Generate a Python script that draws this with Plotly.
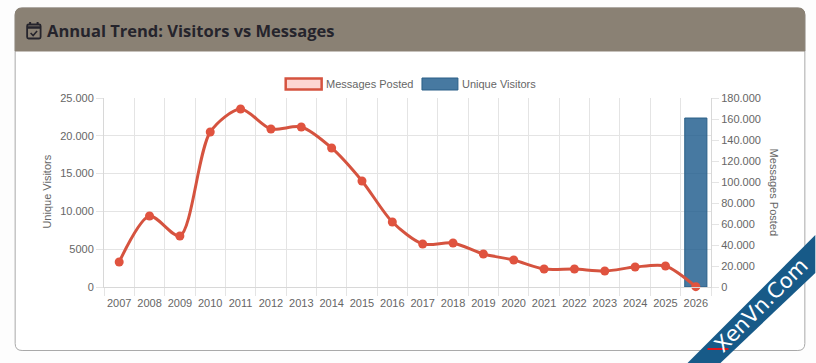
import plotly.graph_objects as go

years = [str(y) for y in range(2007, 2027)]
messages = [23800, 67600, 48600, 147600, 169500, 150500, 152400, 132400, 101000, 61900,
            41000, 41900, 31400, 25700, 17100, 17100, 15200, 19000, 20000, 300]
visitors = [None] * 19 + [22350]
left_ticks = [0, 5000, 10000, 15000, 20000, 25000]
left_labels = ["0", "5000", "10.000", "15.000", "20.000", "25.000"]
right_ticks = list(range(0, 180001, 20000))
right_labels = ["0", "20.000", "40.000", "60.000", "80.000", "100.000", "120.000", "140.000", "160.000", "180.000"]

W, H = 816, 363
L, R, T, B = 103.5, 711.5, 98, 287
FONT = "Liberation Sans"
GRAY = "#666666"
GRID = "#e4e4e4"

fig = go.Figure()
fig.add_trace(go.Bar(x=years, y=visitors, name="Unique Visitors", yaxis="y",
                     marker=dict(color="rgba(31,92,140,0.82)", line=dict(color="#2a5f87", width=1)),
                     showlegend=False))
fig.add_trace(go.Scatter(x=years, y=messages, name="Messages Posted", yaxis="y2", mode="lines+markers",
                         line=dict(color="#d5533f", width=3, shape="spline", smoothing=0.8),
                         marker=dict(color="#e0533f", size=9), cliponaxis=False, showlegend=False))


# paper coordinates are relative to the plot area
def px(x):
    return (x - L) / (R - L)


def py(y):
    return (B - y) / (B - T)


def f(a, b):
    return f"{px(a):.5f},{py(b):.5f}"


def rect(x0, y0, x1, y1, fill, line=None, lw=0):
    return dict(type="rect", xref="paper", yref="paper", x0=px(x0), x1=px(x1), y0=py(y0), y1=py(y1),
                fillcolor=fill, line=dict(color=line or fill, width=lw), layer="above")


def path(points, fill=None, line=None, lw=1, layer="below"):
    d = "M" + " L".join(f(x, y) for x, y in points)
    if fill:
        d += " Z"
    return dict(type="path", xref="paper", yref="paper", path=d, fillcolor=fill or "rgba(0,0,0,0)",
                line=dict(color=line or "rgba(0,0,0,0)", width=lw), layer=layer)


def card(x0, y0, x1, y1, r):
    return (f"M{f(x0 + r, y0)} L{f(x1 - r, y0)} Q{f(x1, y0)} {f(x1, y0 + r)} L{f(x1, y1 - r)} "
            f"Q{f(x1, y1)} {f(x1 - r, y1)} L{f(x0 + r, y1)} Q{f(x0, y1)} {f(x0, y1 - r)} "
            f"L{f(x0, y0 + r)} Q{f(x0, y0)} {f(x0 + r, y0)} Z")


def header(x0, y0, x1, y1, r):
    return (f"M{f(x0 + r, y0)} L{f(x1 - r, y0)} Q{f(x1, y0)} {f(x1, y0 + r)} L{f(x1, y1)} L{f(x0, y1)} "
            f"L{f(x0, y0 + r)} Q{f(x0, y0)} {f(x0 + r, y0)} Z")


INK = "#25242c"
shapes = [
    dict(type="path", xref="paper", yref="paper", path=card(14.5, 8, 805.5, 350.5, 7),
         fillcolor="#ffffff", line=dict(color="#a9a9a9", width=1), layer="below"),
    dict(type="path", xref="paper", yref="paper", path=header(14.5, 8, 805.5, 51, 7),
         fillcolor="#8a8174", line=dict(color="#8a8174", width=1), layer="below"),
    # calendar icon
    dict(type="path", xref="paper", yref="paper", path=card(26.5, 24.5, 40, 38.5, 1.5),
         fillcolor="rgba(0,0,0,0)", line=dict(color=INK, width=1.8), layer="above"),
    path([(26.5, 27.5), (40, 27.5)], line=INK, lw=2.5, layer="above"),
    path([(29.5, 22), (29.5, 25)], line=INK, lw=2, layer="above"),
    path([(37, 22), (37, 25)], line=INK, lw=2, layer="above"),
    path([(30, 33), (32.5, 35.5), (36.5, 31)], line=INK, lw=1.6, layer="above"),
    # legend swatches
    rect(285.5, 78.5, 321.5, 89.5, "#fdd6d2", "#d5533f", 2.5),
    rect(422, 78, 458, 90, "rgba(31,92,140,0.82)", "#2a5f87", 1),
    # watermark band
    path([(816, 235), (816, 273), (721, 363), (688, 363)], fill="#175a88", layer="above"),
    path([(708, 349), (729, 349)], line="#e0141c", lw=2, layer="above"),
]


def note(text, x, y, anchor="left", angle=0, family=FONT, size=11, color=GRAY):
    if anchor == "left":
        x -= 2.5
    return dict(text=text, x=px(x), y=py(y), xref="paper", yref="paper", xanchor=anchor, yanchor="middle",
                showarrow=False, textangle=angle, font=dict(family=family, size=size, color=color))


annotations = [
    note("<b>Annual Trend: Visitors vs Messages</b>", 47, 30, family="Open Sans", size=16.5, color=INK),
    note("Messages Posted", 326.5, 83.5),
    note("Unique Visitors", 463, 83.5),
    note("Unique Visitors", 46, 192, anchor="center", angle=-90),
    note("Messages Posted", 775, 192, anchor="center", angle=90),
    note("XenVn.Com", 762, 305, anchor="center", angle=-45, family="DejaVu Sans", size=21, color="#ffffff"),
]

fig.update_layout(
    width=W, height=H, autosize=False,
    paper_bgcolor="#fdfdfd", plot_bgcolor="rgba(0,0,0,0)",
    margin=dict(l=L, r=W - R, t=T, b=H - B, autoexpand=False),
    font=dict(family=FONT, size=11, color=GRAY),
    bargap=0.27, showlegend=False,
    shapes=shapes, annotations=annotations,
    xaxis=dict(type="category", categoryorder="array", categoryarray=years, range=[-0.5, 19.5],
               tickson="boundaries", ticks="outside", ticklen=8, tickcolor=GRID, tickangle=0,
               ticklabelstandoff=6, showgrid=True, gridcolor=GRID, gridwidth=1,
               showline=True, linecolor="#d8d8d8", linewidth=1, tickfont=dict(size=11, color=GRAY), zeroline=False),
    yaxis=dict(range=[0, 25000], tickvals=left_ticks, ticktext=left_labels, ticks="outside", ticklen=7,
               tickcolor=GRID, showgrid=True, gridcolor=GRID, showline=True, linecolor="#d8d8d8",
               zeroline=False),
    yaxis2=dict(range=[0, 180000], overlaying="y", side="right", tickvals=right_ticks, ticktext=right_labels,
                ticks="outside", ticklen=7, tickcolor=GRID, showgrid=False, showline=True, linecolor="#d8d8d8",
                zeroline=False),
)
fig.write_html("out.html", config=dict(displayModeBar=False),
               post_script="document.body.style.margin='0';document.body.style.overflow='hidden';")
